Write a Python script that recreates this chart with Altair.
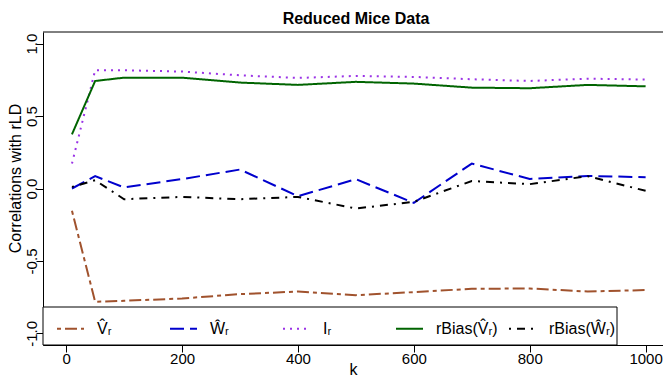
import altair as alt
import pandas as pd

# ---- data ----
k = [10, 50, 100, 200, 300, 400, 500, 600, 700, 800, 900, 1000]
v_hat = [-0.154, -0.782, -0.775, -0.759, -0.729, -0.711, -0.736, -0.715, -0.692, -0.690, -0.711, -0.701]
w_hat = [0.000, 0.085, 0.007, 0.065, 0.131, -0.053, 0.064, -0.099, 0.172, 0.066, 0.087, 0.078]
i_r = [0.172, 0.816, 0.816, 0.807, 0.781, 0.763, 0.777, 0.770, 0.754, 0.742, 0.758, 0.752]
rbias_v = [0.374, 0.742, 0.765, 0.765, 0.731, 0.715, 0.736, 0.724, 0.696, 0.692, 0.715, 0.705]
rbias_w = [0.011, 0.057, -0.074, -0.058, -0.074, -0.058, -0.138, -0.092, 0.052, 0.030, 0.085, -0.016]

series_names = ["V\u0302\u1d63", "W\u0302\u1d63", "I\u1d63", "rBias(V\u0302\u1d63)", "rBias(W\u0302\u1d63)"]
series_values = [v_hat, w_hat, i_r, rbias_v, rbias_w]

x_ticks = [0, 200, 400, 600, 800, 1000]
y_ticks = [-1.0, -0.5, 0.0, 0.5, 1.0]

# ---- styles ----
colors = ["#A0522D", "#0000CD", "#9A32E6", "#006400", "#000000"]
dashes = [[4, 4, 12, 4], [14, 6], [2, 5], [1, 0], [2, 6, 8, 6]]
FONT = "Liberation Sans, DejaVu Sans, sans-serif"

rows = []
for name, vals in zip(series_names, series_values):
    for kk, v in zip(k, vals):
        rows.append({"k": kk, "value": v, "series": name})
df = pd.DataFrame(rows)

W, H = 620, 313

legend = alt.Legend(
    orient="none", legendX=13, legendY=282, direction="horizontal", columns=5,
    gridAlign="all", title=None, symbolType="stroke", symbolSize=729,
    symbolStrokeWidth=2, labelFontSize=16, labelOffset=12, columnPadding=2,
    padding=0, labelLimit=300, labelFont=FONT, labelColor="black",
)

lines = alt.Chart(df).mark_line(strokeWidth=2).encode(
    x=alt.X("k:Q", title="k",
            scale=alt.Scale(domain=[-40, 1030], nice=False, zero=False),
            axis=alt.Axis(values=x_ticks, format="d", labelPadding=-1,
                          titleY=29, titleBaseline="alphabetic")),
    y=alt.Y("value:Q", title="Correlations with rLD",
            scale=alt.Scale(domain=[-1.08, 1.08], nice=False, zero=False),
            axis=alt.Axis(values=y_ticks,
                          labelExpr="replace(format(datum.value, '.1f'), '\u2212', '-')",
                          labelAngle=-90, labelAlign="center", labelBaseline="alphabetic",
                          labelPadding=0, titleAngle=-90, titleAlign="center",
                          titleBaseline="middle", titleX=-28, titleY=146)),
    color=alt.Color("series:N", scale=alt.Scale(domain=series_names, range=colors), legend=legend),
    strokeDash=alt.StrokeDash("series:N", scale=alt.Scale(domain=series_names, range=dashes), legend=legend),
    detail="series:N",
)

frame_df = pd.DataFrame({"f": [0]})
top_rule = alt.Chart(frame_df).mark_rule(color="black", strokeWidth=1).encode(
    x=alt.value(0), x2=alt.value(W), y=alt.value(0)
)
legend_box = alt.Chart(frame_df).mark_rect(fill="white", stroke="black", strokeWidth=1).encode(
    x=alt.value(0), x2=alt.value(574), y=alt.value(275), y2=alt.value(313)
)

chart = alt.layer(lines, legend_box, top_rule).properties(
    width=W, height=H,
    padding={"left": 43, "top": 32, "right": 0, "bottom": 31},
    autosize=alt.AutoSizeParams(type="none"),
    title=alt.TitleParams("Reduced Mice Data", fontSize=16, fontWeight="bold", font=FONT,
                          anchor="middle", offset=9, baseline="alphabetic", dx=3, dy=17,
                          color="black"),
).configure(background="white").configure_view(stroke=None).configure_axis(
    grid=False, domainColor="black", tickColor="black", labelColor="black", titleColor="black",
    tickSize=7, labelFontSize=15, titleFontSize=16, titleFontWeight="normal",
    labelFont=FONT, titleFont=FONT, domainWidth=1, tickWidth=1,
)

chart.save("out.html", embed_options={"renderer": "svg", "actions": False})
